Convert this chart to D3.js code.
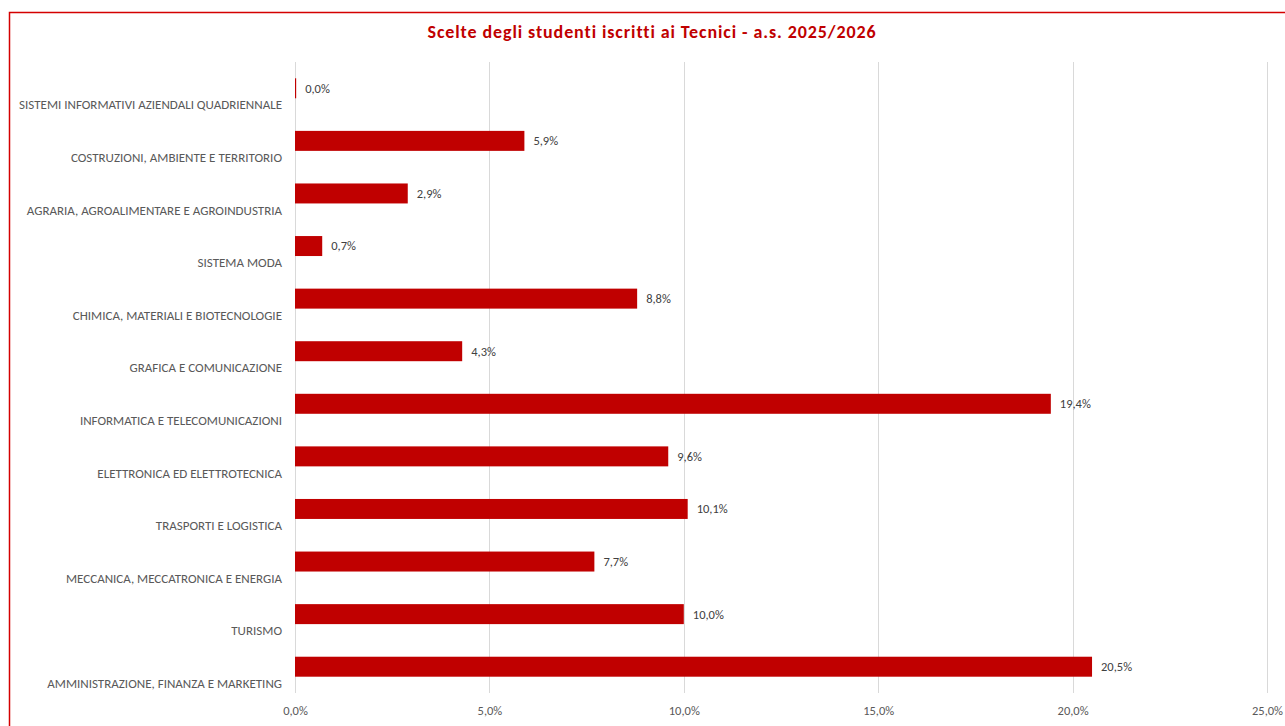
<!DOCTYPE html>
<html>
<head>
<meta charset="utf-8">
<script src="https://cdn.jsdelivr.net/npm/d3@7"></script>
<style>
  html, body { margin: 0; padding: 0; background: #fff; }
  svg { display: block; font-family: Carlito, Calibri, 'Open Sans', sans-serif; }
</style>
</head>
<body>
<div id="chart"></div>
<script>
// Data

const categories = [
  'SISTEMI INFORMATIVI AZIENDALI QUADRIENNALE',
  'COSTRUZIONI, AMBIENTE E TERRITORIO',
  'AGRARIA, AGROALIMENTARE E AGROINDUSTRIA',
  'SISTEMA MODA',
  'CHIMICA, MATERIALI E BIOTECNOLOGIE',
  'GRAFICA E COMUNICAZIONE',
  'INFORMATICA E TELECOMUNICAZIONI',
  'ELETTRONICA ED ELETTROTECNICA',
  'TRASPORTI E LOGISTICA',
  'MECCANICA, MECCATRONICA E ENERGIA',
  'TURISMO',
  'AMMINISTRAZIONE, FINANZA E MARKETING',
]
const values = [0.03, 5.9, 2.9, 0.7, 8.8, 4.3, 19.44, 9.6, 10.1, 7.7, 10.0, 20.5]
const xTicks = [0, 5, 10, 15, 20, 25]
const title = 'Scelte degli studenti iscritti ai Tecnici - a.s. 2025/2026'

const W = 1285
const H = 726
const margin = { top: 62, right: 18, bottom: 33, left: 295 }
const RED = '#c00000'

const fmt = v => d3.format('.1f')(v).replace('.', ',') + '%'

const svg = d3.select('#chart').append('svg').attr('width', W).attr('height', H)

// Frame & title

svg.append('rect')
  .attr('x', 9.5).attr('y', 12.5)
  .attr('width', W + 20).attr('height', H + 20)
  .attr('fill', 'none')
  .attr('stroke', '#d40000')
  .attr('stroke-width', 1.5)

svg.append('text')
  .attr('x', 652).attr('y', 38)
  .attr('text-anchor', 'middle')
  .attr('fill', RED)
  .attr('font-weight', 'bold')
  .attr('font-size', 18)
  .attr('letter-spacing', 0.9)
  .text(title)

// Scales

const x = d3.scaleLinear().domain([0, 25]).range([margin.left, 1267])
const y = d3.scaleBand().domain(categories).range([margin.top, H - margin.bottom]).paddingInner(0.62).paddingOuter(0.31)

// Grid

svg.append('g')
  .selectAll('line')
  .data(xTicks)
  .join('line')
  .attr('x1', d => Math.round(x(d)) + 0.5)
  .attr('x2', d => Math.round(x(d)) + 0.5)
  .attr('y1', margin.top)
  .attr('y2', H - margin.bottom)
  .attr('stroke', '#d9d9d9')
  .attr('stroke-width', 1)

// Axes

const axisBot = svg.append('g')
  .attr('transform', `translate(0,${H - margin.bottom})`)
  .call(d3.axisBottom(x).tickValues(xTicks).tickFormat(fmt).tickSize(0).tickPadding(13))
  .attr('font-family', null)
  .attr('font-size', null)
axisBot.select('.domain').remove()
axisBot.selectAll('text').attr('fill', '#595959').attr('font-size', 12.5)

const axisLeft = svg.append('g')
  .attr('transform', `translate(${margin.left},0)`)
  .call(d3.axisLeft(y).tickSize(0).tickPadding(13))
  .attr('font-family', null)
  .attr('font-size', null)
axisLeft.select('.domain').remove()
axisLeft.selectAll('text')
  .attr('fill', '#595959')
  .attr('font-size', 13)
  .attr('y', 17)

// Bars

svg.append('g')
  .selectAll('rect')
  .data(values)
  .join('rect')
  .attr('x', x(0))
  .attr('y', (d, i) => y(categories[i]))
  .attr('width', d => Math.max(1, x(d) - x(0)))
  .attr('height', y.bandwidth())
  .attr('fill', RED)

// Value labels

svg.append('g')
  .selectAll('text')
  .data(values)
  .join('text')
  .attr('x', d => x(d) + 9)
  .attr('y', (d, i) => y(categories[i]) + y.bandwidth() / 2)
  .attr('dy', '0.35em')
  .attr('fill', '#404040')
  .attr('font-size', 12.5)
  .text(d => fmt(d))
</script>
</body>
</html>
